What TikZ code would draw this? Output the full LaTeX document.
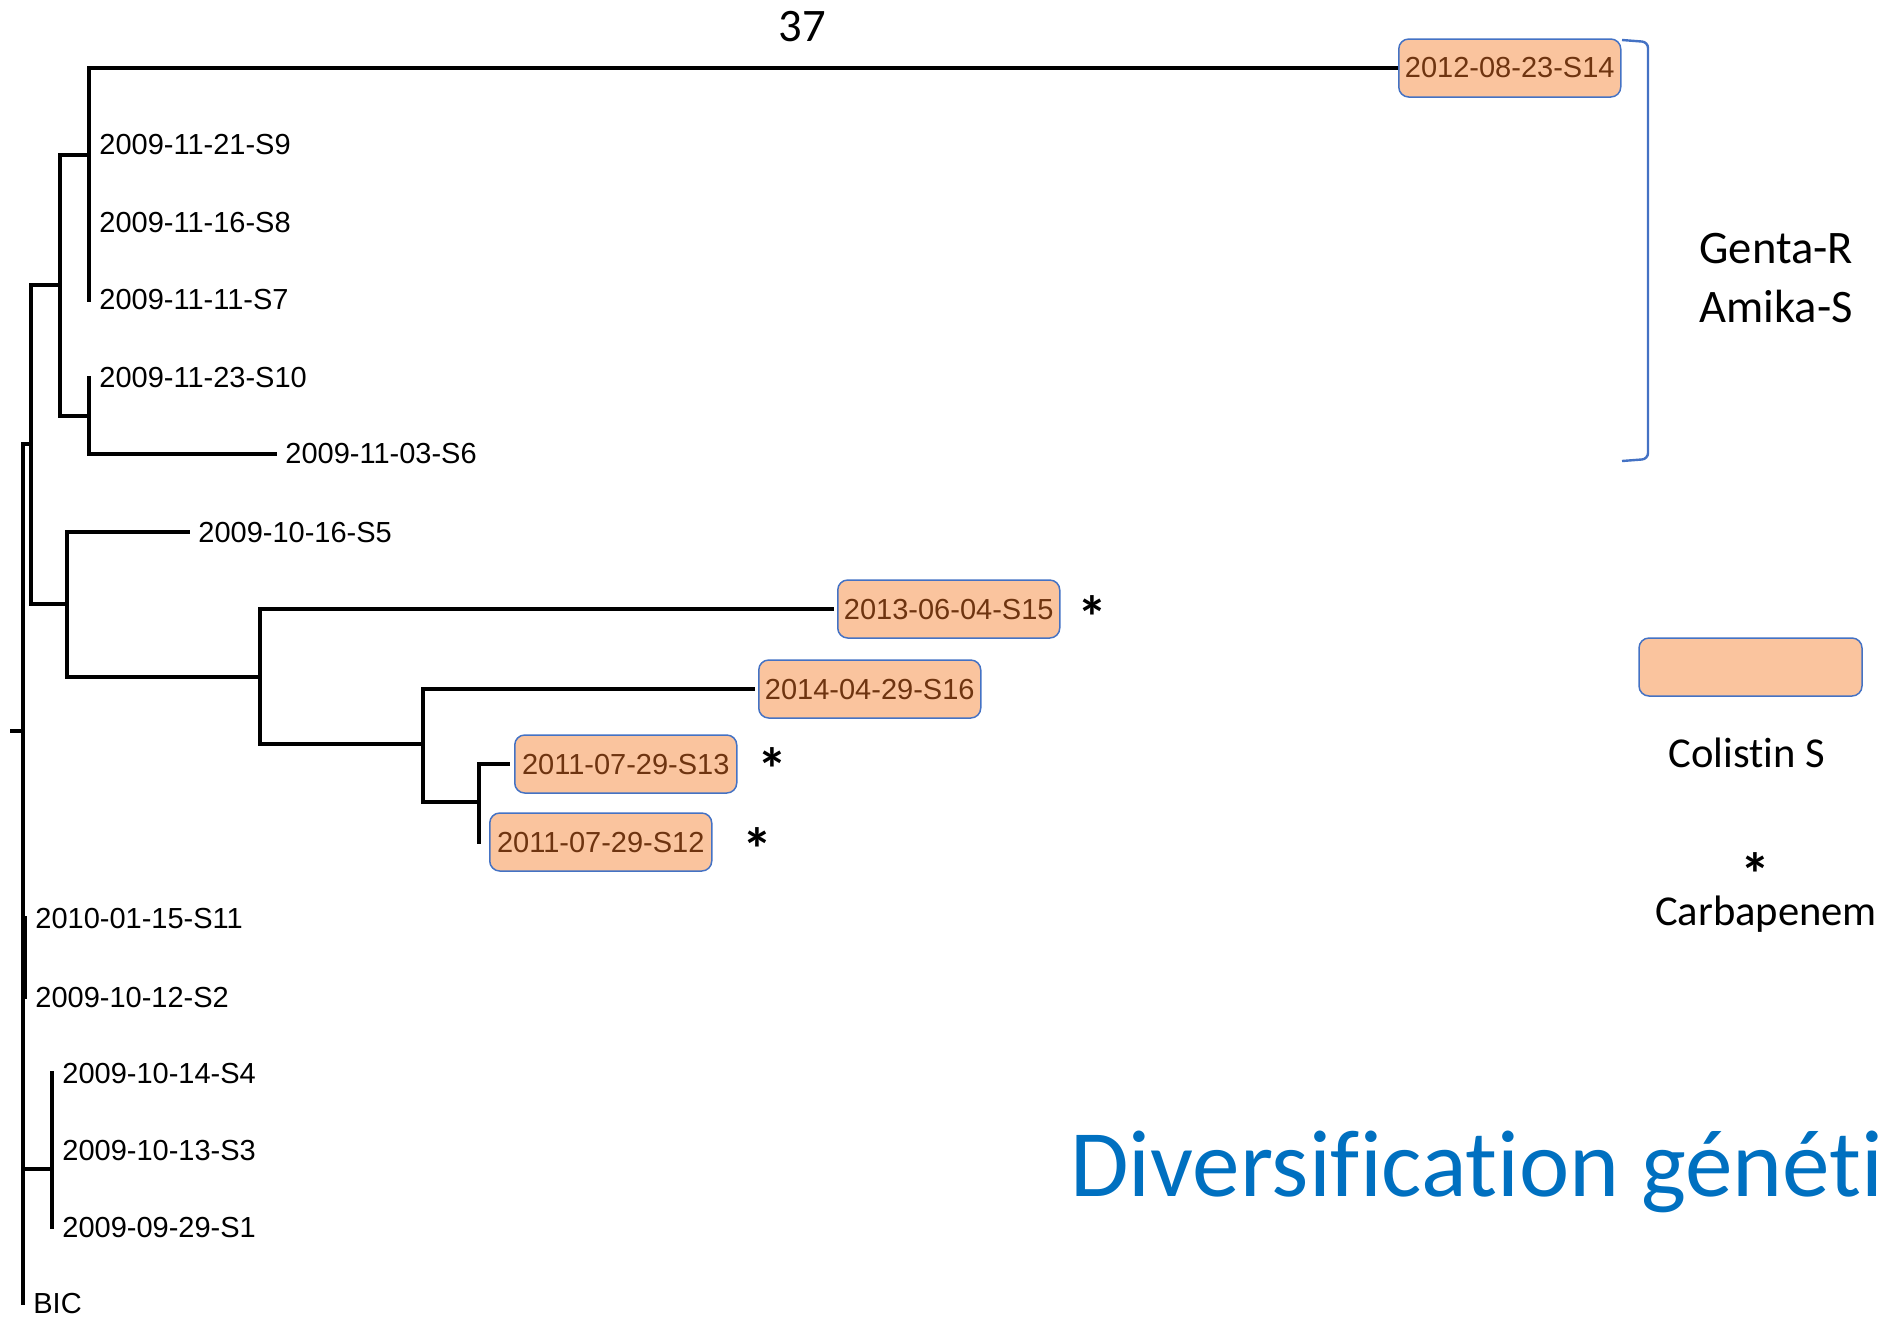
\documentclass[tikz,border=0pt]{standalone}
\usepackage{fontspec}
\setmainfont{Carlito}[Ligatures=NoCommon]
\newfontfamily\arialfont{Liberation Sans}
\definecolor{boxfill}{HTML}{FAC49E}
\definecolor{boxline}{HTML}{4472C4}
\definecolor{boxtext}{HTML}{6E3410}
\definecolor{titleblue}{HTML}{0070C0}
\definecolor{bracketblue}{HTML}{4472C4}

\begin{document}
\begin{tikzpicture}[x=0.5pt, y=-0.5pt,
  branch/.style={line width=2pt, line cap=rect},
  leaflabel/.style={anchor=west, inner sep=0pt, xshift=5pt, font=\arialfont\fontsize{14.5}{16}\selectfont},
  colbox/.style={fill=boxfill, draw=boxline, line width=0.75pt, rounded corners=5pt, minimum width=111pt, minimum height=29pt, inner sep=0pt, anchor=west, text=boxtext, font=\arialfont\fontsize{14.5}{16}\selectfont},
  bigtext/.style={inner sep=0pt, font=\fontsize{23.3}{28}\selectfont},
  legtext/.style={inner sep=0pt, font=\fontsize{21.3}{26}\selectfont},
  star/.style={inner sep=0pt, font=\bfseries\fontsize{30}{34}\selectfont}]
\path[use as bounding box, clip] (0,0) rectangle (1883,1319);

% internal nodes
\coordinate (root) at (23,731);
\coordinate (rtick) at (12,731);
\coordinate (cbig) at (31,444);
\coordinate (cab) at (60,285);
\coordinate (ca) at (89,155);
\coordinate (cb) at (89,416);
\coordinate (c5) at (67,604);
\coordinate (c15) at (260,677);
\coordinate (c16) at (423,744);
\coordinate (c13) at (479,802);
\coordinate (c11) at (25,958);
\coordinate (c4) at (52,1169);

% tips
\coordinate (t14) at (1398,68);
\coordinate (t9) at (89,145);
\coordinate (t8) at (89,223);
\coordinate (t7) at (89,300);
\coordinate (t10) at (89,378);
\coordinate (t6) at (275,454);
\coordinate (t5) at (188,532);
\coordinate (t15) at (832,609);
\coordinate (t16) at (753,689);
\coordinate (t13) at (508,764);
\coordinate (t12) at (479,842);
\coordinate (t11) at (25,918);
\coordinate (t2) at (25,997);
\coordinate (t4) at (52,1073);
\coordinate (t3) at (52,1150);
\coordinate (t1) at (52,1227);
\coordinate (tbic) at (23,1303);

% branches
\draw[branch] (rtick) -- (root);
\draw[branch] (root) |- (cbig);
\draw[branch] (root) |- (c11);
\draw[branch] (root) |- (c4);
\draw[branch] (root) |- (tbic);
\draw[branch] (cbig) |- (cab);
\draw[branch] (cbig) |- (c5);
\draw[branch] (cab) |- (ca);
\draw[branch] (cab) |- (cb);
\draw[branch] (ca) |- (t14);
\draw[branch] (ca) |- (t9);
\draw[branch] (ca) |- (t8);
\draw[branch] (ca) |- (t7);
\draw[branch] (cb) |- (t10);
\draw[branch] (cb) |- (t6);
\draw[branch] (c5) |- (t5);
\draw[branch] (c5) |- (c15);
\draw[branch] (c15) |- (t15);
\draw[branch] (c15) |- (c16);
\draw[branch] (c16) |- (t16);
\draw[branch] (c16) |- (c13);
\draw[branch] (c13) |- (t13);
\draw[branch] (c13) |- (t12);
\draw[branch] (c11) |- (t11);
\draw[branch] (c11) |- (t2);
\draw[branch] (c4) |- (t4);
\draw[branch] (c4) |- (t3);
\draw[branch] (c4) |- (t1);

% leaf labels
\node[leaflabel] (l9) at (t9) {2009-11-21-S9};
\node[leaflabel] (l8) at (t8) {2009-11-16-S8};
\node[leaflabel] (l7) at (t7) {2009-11-11-S7};
\node[leaflabel] (l10) at (t10) {2009-11-23-S10};
\node[leaflabel] (l6) at (t6) {2009-11-03-S6};
\node[leaflabel] (l5) at (t5) {2009-10-16-S5};
\node[leaflabel] (l11) at (t11) {2010-01-15-S11};
\node[leaflabel] (l2) at (t2) {2009-10-12-S2};
\node[leaflabel] (l4) at (t4) {2009-10-14-S4};
\node[leaflabel] (l3) at (t3) {2009-10-13-S3};
\node[leaflabel] (l1) at (t1) {2009-09-29-S1};
\node[leaflabel] (lbic) at (tbic) {BIC};

% colistin S boxes
\node[colbox] (b14) at (1398,68) {2012-08-23-S14};
\node[colbox] (b15) at (837,609) {2013-06-04-S15};
\node[colbox] (b16) at (758,689) {2014-04-29-S16};
\node[colbox] (b13) at (514,764) {2011-07-29-S13};
\node[colbox] (b12) at (489,842) {2011-07-29-S12};

% carbapenem marks
\node[star] (s15) at (1092,617) {*};
\node[star] (s13) at (772,769) {*};
\node[star] (s12) at (757,849) {*};

\node[bigtext] (scale) at (802,27) {37};

% legend
\draw[bracketblue, line width=1.2pt, rounded corners=3pt] (1622,40) -- (1648,42) -- (1648,459) -- (1622,461);
\node[bigtext, anchor=base west] (genta) at (1699,263) {Genta-R};
\node[bigtext, anchor=base west] (amika) at (1699,322) {Amika-S};
\node[colbox, anchor=center, minimum width=111.5pt] (legbox) at (1750.5,667) {};
\node[legtext, anchor=base] (colistin) at (1747,767) {Colistin S};
\node[star] (slegend) at (1755,874) {*};
\node[legtext, anchor=base] (carba) at (1766,925) {Carbapenem};

\node[anchor=base west, inner sep=0pt, text=titleblue, font=\fontsize{47.6}{56}\selectfont] (title) at (1070,1196) {Diversification généti};
\end{tikzpicture}
\end{document}
